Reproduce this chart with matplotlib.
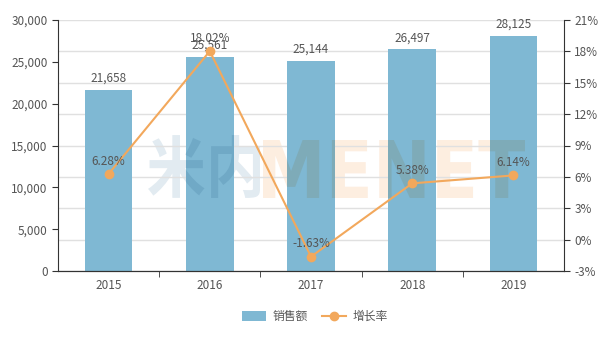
import numpy as np
import matplotlib.pyplot as plt
from matplotlib.lines import Line2D
from matplotlib.patches import Patch, PathPatch
from matplotlib.textpath import TextPath
from matplotlib.font_manager import FontProperties
from matplotlib.transforms import Affine2D, IdentityTransform
from matplotlib.path import Path

plt.rcParams['font.family'] = ['Noto Sans CJK SC', 'DejaVu Sans']

years = ['2015', '2016', '2017', '2018', '2019']
sales = [21658, 25561, 25144, 26497, 28125]
growth = [6.28, 18.02, -1.63, 5.38, 6.14]

bar_color = '#7fb8d3'
line_color = '#f2a85c'
text_color = '#555555'
axis_color = '#333333'

fig = plt.figure(figsize=[6.14, 3.38], dpi=100)
pos = [58/614, 67/338, 506/614, 251/338]

# gridlines on a background axes (follow the right-hand axis ticks)
bg = fig.add_axes(pos, zorder=0)
bg.set_xlim(0, 1)
bg.set_ylim(-3, 21)
for v in range(-3, 22, 3):
    bg.axhline(v, color='#e0e0e0', lw=1)
bg.axis('off')

ax = fig.add_axes(pos, zorder=1)
ax2 = ax.twinx()
ax2.set_zorder(2)
ax.patch.set_visible(False)
ax2.patch.set_visible(False)

x = np.arange(len(years))
bars = ax.bar(x, sales, width=0.47, color=bar_color, zorder=2)
for i in range(len(years)):
    ax.text(x[i], sales[i] + 600, format(sales[i], ','), ha='center', va='bottom',
            fontsize=8.5, color=text_color, zorder=5)

ax.set_xlim(-0.5, 4.5)
ax.set_ylim(0, 30000)
ax.set_yticks(range(0, 30001, 5000))
ax.set_yticklabels([format(v, ',') for v in range(0, 30001, 5000)])
ax.set_xticks(x)
ax.set_xticklabels(years)
ax.set_xticks(np.arange(0.5, 4.5, 1), minor=True)
ax.tick_params(axis='x', which='major', length=0, pad=6)
ax.tick_params(axis='x', which='minor', length=4, color=axis_color)
ax.tick_params(axis='both', labelsize=8.5, labelcolor=text_color)
ax.tick_params(axis='y', length=4, color=axis_color)

ax2.plot(x, growth, color=line_color, lw=1.5, marker='o', ms=6, zorder=4)
for i in range(len(years)):
    ax2.text(x[i], growth[i] + 0.6, '%.2f%%' % growth[i], ha='center', va='bottom',
             fontsize=8.5, color=text_color, zorder=5)
ax2.set_ylim(-3, 21)
ax2.set_yticks(range(-3, 22, 3))
ax2.set_yticklabels(['%d%%' % v for v in range(-3, 22, 3)])
ax2.tick_params(axis='y', labelsize=8.5, labelcolor=text_color, length=4, color=axis_color)

for a in (ax, ax2):
    a.spines['top'].set_visible(False)
    for s in ('left', 'right', 'bottom'):
        a.spines[s].set_color(axis_color)
ax2.spines['left'].set_visible(False)
ax.spines['right'].set_visible(False)

# watermark: light on white, darker (multiplied) where it lies over the bars
verts, codes = [], []
for b in bars:
    x0, w, h = b.get_x(), b.get_width(), b.get_height()
    verts += [(x0, 0), (x0 + w, 0), (x0 + w, h), (x0, h), (x0, 0)]
    codes += [Path.MOVETO, Path.LINETO, Path.LINETO, Path.LINETO, Path.CLOSEPOLY]
bar_clip = Path(verts, codes)


def stamp(text, prop, box, color, color_on_bar):
    tp = TextPath((0, 0), text, size=100, prop=prop)
    ext = tp.get_extents()
    tr = (Affine2D().translate(-ext.x0, -ext.y0)
          .scale((box[2] - box[0]) / ext.width, (box[3] - box[1]) / ext.height)
          .translate(box[0], box[1]))
    path = tr.transform_path(tp)
    p1 = PathPatch(path, facecolor=color, edgecolor='none',
                   transform=IdentityTransform(), zorder=-1)
    fig.add_artist(p1)
    p2 = PathPatch(path, facecolor=color_on_bar, edgecolor='none',
                   transform=IdentityTransform(), zorder=3)
    p2.set_clip_path(bar_clip, ax.transData)
    ax.add_artist(p2)


stamp('米内', FontProperties(family='Noto Sans CJK SC', weight='bold'),
      (148, 140, 260, 203), '#e2ebf1', '#70a9c6')
stamp('MENET', FontProperties(family='DejaVu Sans', weight='bold'),
      (263, 140, 525, 198), '#fdeee0', '#7eabb8')

handles = [Patch(facecolor=bar_color, edgecolor='none'),
           Line2D([], [], color=line_color, lw=1.5, marker='o', ms=6)]
fig.legend(handles, ['销售额', '增长率'], loc='center', bbox_to_anchor=(0.513, 0.063),
           ncol=2, frameon=False, fontsize=8.5, labelcolor=text_color,
           handlelength=2.0, handleheight=1.0, columnspacing=1.2, handletextpad=0.6)

plt.savefig('out.png', dpi=100)
